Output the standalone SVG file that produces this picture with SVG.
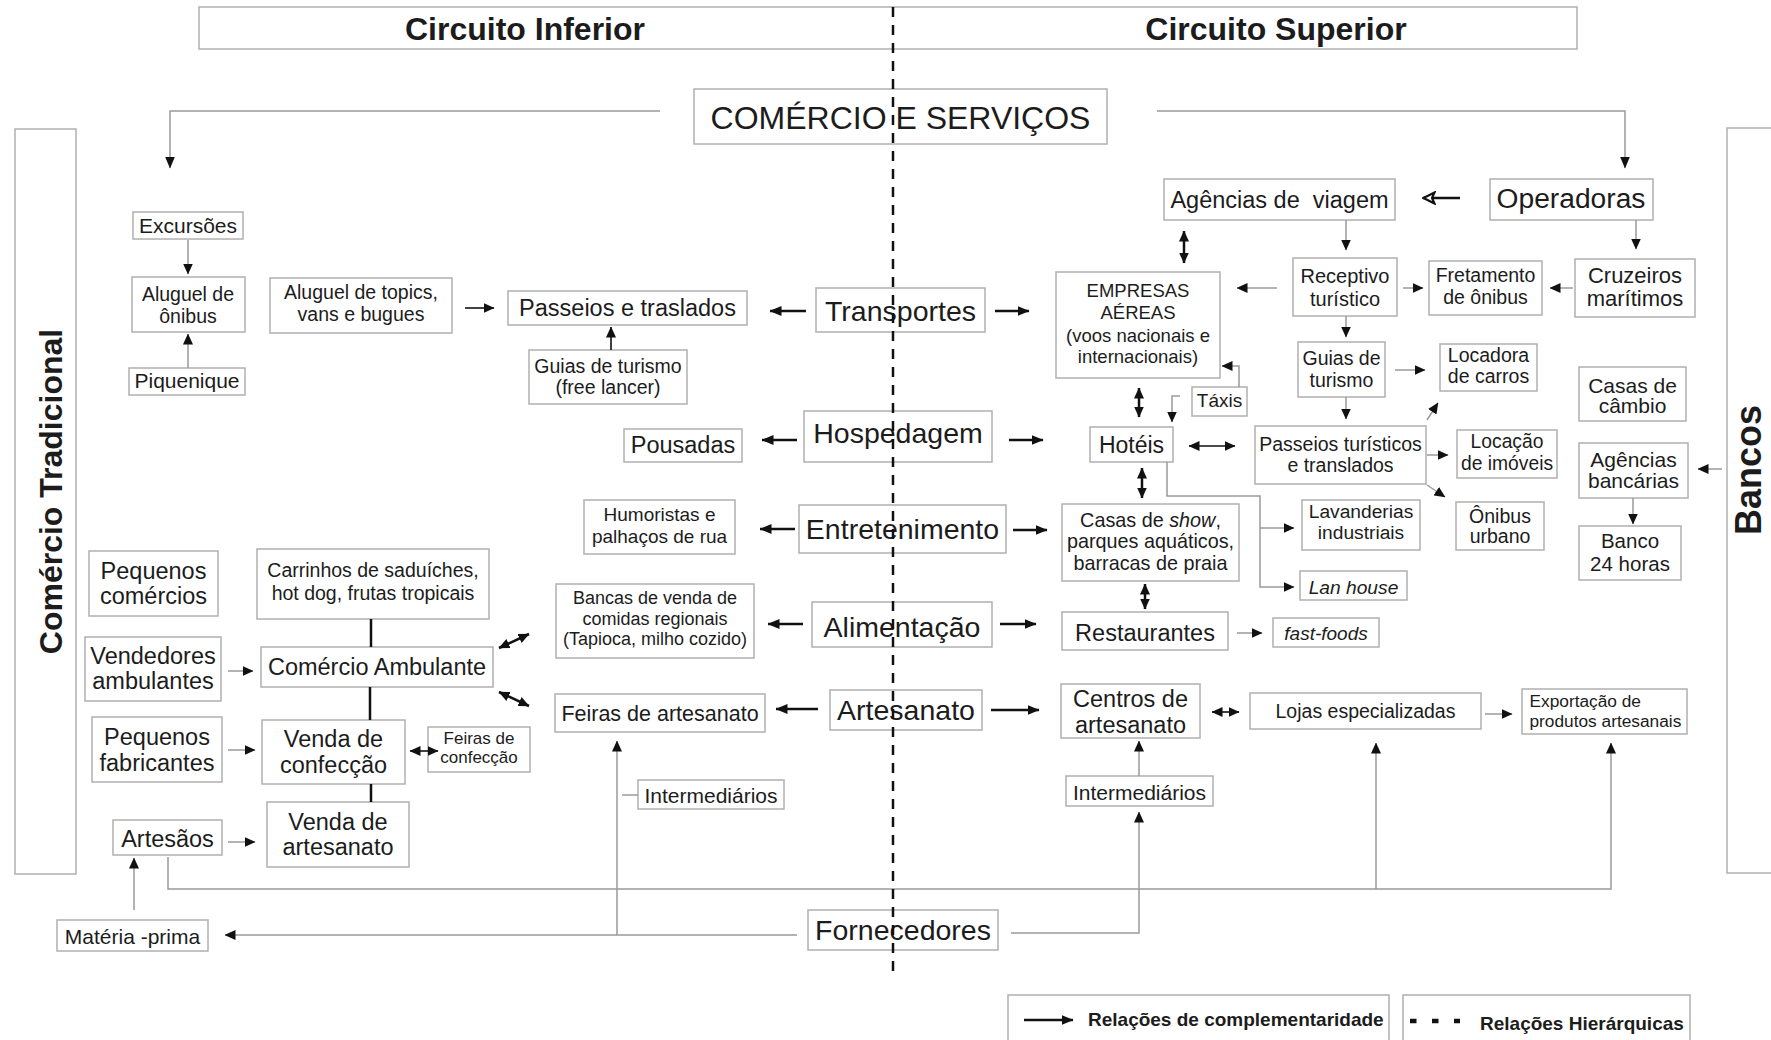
<svg xmlns="http://www.w3.org/2000/svg" width="1771" height="1040" viewBox="0 0 1771 1040">
<style>
.bx{fill:#fff;stroke:#b0b0b0;stroke-width:1.5}
text{font-family:"Liberation Sans",Arial,sans-serif;fill:#1c1c1c}
.m{text-anchor:middle}
.hb{font-weight:bold}
.f28{font-size:28.5px}.f23{font-size:23.5px}.f21{font-size:21px}.f19{font-size:19.5px}.f18{font-size:18.5px}.f17{font-size:17.3px}
.g{fill:none;stroke:#9a9a9a;stroke-width:1.5}
.k{fill:none;stroke:#111;stroke-width:2.5}
.kt{fill:none;stroke:#111;stroke-width:1.6}
.i{font-style:italic}
</style>
<defs>
<marker id="a" viewBox="0 0 12 10" refX="11.5" refY="5" markerWidth="12" markerHeight="10" orient="auto-start-reverse" markerUnits="userSpaceOnUse"><path d="M0,0 L12,5 L0,10 z" fill="#111"/></marker>
<marker id="s" viewBox="0 0 11 10" refX="10.5" refY="5" markerWidth="11" markerHeight="10" orient="auto-start-reverse" markerUnits="userSpaceOnUse"><path d="M0,0 L11,5 L0,10 z" fill="#111"/></marker>
<marker id="h" viewBox="0 0 14 14" refX="13" refY="7" markerWidth="14" markerHeight="14" orient="auto" markerUnits="userSpaceOnUse"><path d="M1.5,1.5 L12.5,7 L1.5,12.5 L4,7 z" fill="#fff" stroke="#111" stroke-width="2.2"/></marker>
</defs>
<rect width="1771" height="1040" fill="#fff"/>

<g id="header">
<rect class="bx" x="199" y="7" width="1378" height="42"/>
<text class="m hb" x="525" y="40" font-size="32">Circuito Inferior</text>
<text class="m hb" x="1276" y="40" font-size="32">Circuito Superior</text>
</g>

<g id="comercio-tradicional">
<rect class="bx" x="15" y="129" width="61" height="745"/>
<text class="m hb" font-size="32" transform="translate(62,491.5) rotate(-90)">Comércio Tradicional</text>
</g>
<g id="bancos">
<rect class="bx" x="1727" y="128" width="60" height="745"/>
<text class="m hb" font-size="36" transform="translate(1761,470) rotate(-90)">Bancos</text>
</g>

<g id="comercio-servicos"><rect class="bx" x="694" y="89" width="413" height="55"/><text class="m" x="900.5" y="129" font-size="32">COMÉRCIO E SERVIÇOS</text></g>

<g id="excursoes"><rect class="bx" x="133" y="212" width="110" height="27"/><text class="m f21" x="188" y="233">Excursões</text></g>
<g id="aluguel-onibus"><rect class="bx" x="132" y="277" width="113" height="55"/><text class="m f19" x="188"><tspan x="188" y="301">Aluguel de</tspan><tspan x="188" y="323">ônibus</tspan></text></g>
<g id="piquenique"><rect class="bx" x="129" y="368" width="116" height="27"/><text class="m f21" x="187" y="388">Piquenique</text></g>
<g id="aluguel-topics"><rect class="bx" x="270" y="278" width="182" height="55"/><text class="m f19"><tspan x="361" y="299">Aluguel de topics,</tspan><tspan x="361" y="321">vans e bugues</tspan></text></g>
<g id="passeios-traslados"><rect class="bx" x="508" y="291" width="239" height="34"/><text class="m f23" x="627.5" y="315.5">Passeios e traslados</text></g>
<g id="guias-free"><rect class="bx" x="529" y="350" width="158" height="54"/><text class="m f19"><tspan x="608" y="373">Guias de turismo</tspan><tspan x="608" y="394">(free lancer)</tspan></text></g>
<g id="transportes"><rect class="bx" x="816" y="288" width="169" height="44"/><text class="m f28" x="900.5" y="321">Transportes</text></g>
<g id="hospedagem"><rect class="bx" x="804" y="411" width="188" height="51"/><text class="m f28" x="898" y="443">Hospedagem</text></g>
<g id="pousadas"><rect class="bx" x="624" y="429" width="118" height="33"/><text class="m f23" x="683" y="453">Pousadas</text></g>
<g id="humoristas"><rect class="bx" x="584" y="500" width="151" height="54"/><text class="m" font-size="19"><tspan x="659.5" y="521">Humoristas e</tspan><tspan x="659.5" y="543">palhaços de rua</tspan></text></g>
<g id="entretenimento"><rect class="bx" x="799" y="505" width="207" height="48"/><text class="m f28" x="902.5" y="539">Entretenimento</text></g>
<g id="pequenos-comercios"><rect class="bx" x="89" y="551" width="129" height="65"/><text class="m f23"><tspan x="153.5" y="579">Pequenos</tspan><tspan x="153.5" y="604">comércios</tspan></text></g>
<g id="carrinhos"><rect class="bx" x="257" y="549" width="232" height="70"/><text class="m f19"><tspan x="373" y="577">Carrinhos de saduíches,</tspan><tspan x="373" y="600">hot dog, frutas tropicais</tspan></text></g>
<g id="bancas"><rect class="bx" x="556" y="584" width="198" height="74"/><text class="m" font-size="18"><tspan x="655" y="604">Bancas de venda de</tspan><tspan x="655" y="624.5">comidas regionais</tspan><tspan x="655" y="645">(Tapioca, milho cozido)</tspan></text></g>
<g id="alimentacao"><rect class="bx" x="812" y="602" width="180" height="45"/><text class="m f28" x="902" y="637">Alimentação</text></g>
<g id="vendedores"><rect class="bx" x="85" y="637" width="136" height="64"/><text class="m f23"><tspan x="153" y="664">Vendedores</tspan><tspan x="153" y="689">ambulantes</tspan></text></g>
<g id="comercio-ambulante"><rect class="bx" x="261" y="647" width="232" height="40"/><text class="m f23" x="377" y="675">Comércio Ambulante</text></g>
<g id="feiras-artesanato"><rect class="bx" x="555" y="694" width="210" height="38"/><text class="m" font-size="21.5" x="660" y="721">Feiras de artesanato</text></g>
<g id="artesanato"><rect class="bx" x="830" y="690" width="152" height="40"/><text class="m f28" x="906" y="720">Artesanato</text></g>
<g id="pequenos-fabricantes"><rect class="bx" x="92" y="717" width="130" height="65"/><text class="m f23"><tspan x="157" y="745">Pequenos</tspan><tspan x="157" y="771">fabricantes</tspan></text></g>
<g id="venda-confeccao"><rect class="bx" x="262" y="720" width="143" height="64"/><text class="m f23"><tspan x="333.5" y="747">Venda de</tspan><tspan x="333.5" y="773">confecção</tspan></text></g>
<g id="feiras-confeccao"><rect class="bx" x="428" y="727" width="102" height="45"/><text class="m" font-size="17"><tspan x="479" y="744">Feiras de</tspan><tspan x="479" y="763">confecção</tspan></text></g>
<g id="intermediarios-l"><rect class="bx" x="638" y="780" width="146" height="29"/><text class="m f21" x="711" y="803">Intermediários</text></g>
<g id="artesaos"><rect class="bx" x="113" y="820" width="109" height="35"/><text class="m f23" x="167.5" y="847">Artesãos</text></g>
<g id="venda-artesanato"><rect class="bx" x="267" y="802" width="142" height="65"/><text class="m f23"><tspan x="338" y="830">Venda de</tspan><tspan x="338" y="855">artesanato</tspan></text></g>
<g id="fornecedores"><rect class="bx" x="808" y="910" width="190" height="40"/><text class="m f28" x="903" y="940">Fornecedores</text></g>
<g id="materia-prima"><rect class="bx" x="57" y="920" width="151" height="31"/><text class="m f21" x="132.5" y="944">Matéria -prima</text></g>

<g id="agencias-viagem"><rect class="bx" x="1164" y="179" width="231" height="41"/><text class="m f23" x="1279.5" y="208" style="white-space:pre">Agências de  viagem</text></g>
<g id="operadoras"><rect class="bx" x="1490" y="179" width="163" height="41"/><text class="m" font-size="28.2" x="1571" y="208">Operadoras</text></g>
<g id="empresas-aereas"><rect class="bx" x="1056" y="272" width="164" height="106"/><text class="m f18"><tspan x="1138" y="297">EMPRESAS</tspan><tspan x="1138" y="319">AÉREAS</tspan><tspan x="1138" y="342">(voos nacionais e</tspan><tspan x="1138" y="363">internacionais)</tspan></text></g>
<g id="receptivo"><rect class="bx" x="1293" y="258" width="104" height="58"/><text class="m" font-size="20"><tspan x="1345" y="283">Receptivo</tspan><tspan x="1345" y="306">turístico</tspan></text></g>
<g id="fretamento"><rect class="bx" x="1429" y="261" width="113" height="54"/><text class="m f19"><tspan x="1485.5" y="282">Fretamento</tspan><tspan x="1485.5" y="304">de ônibus</tspan></text></g>
<g id="cruzeiros"><rect class="bx" x="1575" y="259" width="120" height="58"/><text class="m" font-size="22"><tspan x="1635" y="283">Cruzeiros</tspan><tspan x="1635" y="306">marítimos</tspan></text></g>
<g id="guias-turismo"><rect class="bx" x="1298" y="342" width="87" height="55"/><text class="m f19"><tspan x="1341.5" y="365">Guias de</tspan><tspan x="1341.5" y="387">turismo</tspan></text></g>
<g id="locadora"><rect class="bx" x="1440" y="344" width="97" height="47"/><text class="m f19"><tspan x="1488.5" y="362">Locadora</tspan><tspan x="1488.5" y="383">de carros</tspan></text></g>
<g id="taxis"><rect class="bx" x="1192" y="387" width="55" height="29"/><text class="m" font-size="19" x="1219.5" y="407">Táxis</text></g>
<g id="casas-cambio"><rect class="bx" x="1579" y="367" width="107" height="54"/><text class="m f21"><tspan x="1632.5" y="393">Casas de</tspan><tspan x="1632.5" y="413">câmbio</tspan></text></g>
<g id="hoteis"><rect class="bx" x="1090" y="427" width="83" height="35"/><text class="m" font-size="23" x="1131.5" y="453">Hotéis</text></g>
<g id="passeios-turisticos"><rect class="bx" x="1255" y="426" width="171" height="58"/><text class="m f19"><tspan x="1340.5" y="451">Passeios turísticos</tspan><tspan x="1340.5" y="472">e translados</tspan></text></g>
<g id="locacao-imoveis"><rect class="bx" x="1457" y="430" width="100" height="48"/><text class="m" font-size="19.3"><tspan x="1507" y="448">Locação</tspan><tspan x="1507" y="470">de imóveis</tspan></text></g>
<g id="agencias-bancarias"><rect class="bx" x="1579" y="443" width="109" height="55"/><text class="m f21"><tspan x="1633.5" y="467">Agências</tspan><tspan x="1633.5" y="488">bancárias</tspan></text></g>
<g id="casas-show"><rect class="bx" x="1062" y="504" width="177" height="77"/><text class="m" font-size="19.8"><tspan x="1150.5" y="526.5">Casas de <tspan class="i">show</tspan>,</tspan><tspan x="1150.5" y="548">parques aquáticos,</tspan><tspan x="1150.5" y="569.5">barracas de praia</tspan></text></g>
<g id="lavanderias"><rect class="bx" x="1302" y="500" width="118" height="50"/><text class="m" font-size="19.2"><tspan x="1361" y="518">Lavanderias</tspan><tspan x="1361" y="539">industriais</tspan></text></g>
<g id="onibus-urbano"><rect class="bx" x="1456" y="502" width="88" height="48"/><text class="m f19"><tspan x="1500" y="523">Ônibus</tspan><tspan x="1500" y="543">urbano</tspan></text></g>
<g id="banco-24"><rect class="bx" x="1579" y="526" width="102" height="54"/><text class="m" font-size="20.5"><tspan x="1630" y="548">Banco</tspan><tspan x="1630" y="571">24 horas</tspan></text></g>
<g id="lan-house"><rect class="bx" x="1300" y="571" width="107" height="29"/><text class="m i" font-size="19.2" x="1353.5" y="594">Lan house</text></g>
<g id="restaurantes"><rect class="bx" x="1062" y="612" width="166" height="38"/><text class="m f23" x="1145" y="641">Restaurantes</text></g>
<g id="fast-foods"><rect class="bx" x="1273" y="618" width="106" height="29"/><text class="m i" font-size="19" x="1326" y="640">fast-foods</text></g>
<g id="centros-artesanato"><rect class="bx" x="1061" y="684" width="139" height="54"/><text class="m f23"><tspan x="1130.5" y="707">Centros de</tspan><tspan x="1130.5" y="733">artesanato</tspan></text></g>
<g id="lojas"><rect class="bx" x="1250" y="693" width="231" height="36"/><text class="m f19" x="1365.5" y="718">Lojas especializadas</text></g>
<g id="exportacao"><rect class="bx" x="1522" y="689" width="165" height="45"/><text class="f17"><tspan x="1529.5" y="707">Exportação de</tspan><tspan x="1529.5" y="726.5">produtos artesanais</tspan></text></g>
<g id="intermediarios-r"><rect class="bx" x="1066" y="776" width="147" height="30"/><text class="m f21" x="1139.5" y="800">Intermediários</text></g>

<g id="connectors">
<path class="g" d="M660 111 H170 V168" marker-end="url(#a)"/>
<path class="g" d="M1157 111 H1625 V168" marker-end="url(#a)"/>
<path class="g" d="M188 240 V274" marker-end="url(#s)"/>
<path class="g" d="M188 368 V334" marker-end="url(#s)"/>
<path class="kt" d="M465 308 H494" marker-end="url(#s)"/>
<path class="kt" d="M611 350 V327" marker-end="url(#s)"/>
<path class="k" d="M806 311 H770" marker-end="url(#a)"/>
<path class="k" d="M995 311 H1029" marker-end="url(#a)"/>
<path class="k" d="M797 440 H762" marker-end="url(#a)"/>
<path class="k" d="M1009 440 H1043" marker-end="url(#a)"/>
<path class="k" d="M795 529 H760" marker-end="url(#a)"/>
<path class="k" d="M1013 530 H1047" marker-end="url(#a)"/>
<path class="k" d="M803 624 H768" marker-end="url(#a)"/>
<path class="k" d="M1000 624 H1036" marker-end="url(#a)"/>
<path class="k" d="M818 709 H776" marker-end="url(#a)"/>
<path class="k" d="M991 710 H1039" marker-end="url(#a)"/>
<path class="k" d="M371 619 V647 M370 687 V720 M371 784 V802"/>
<path class="g" d="M228 671 H253" marker-end="url(#s)"/>
<path class="g" d="M228 750 H255" marker-end="url(#s)"/>
<path class="g" d="M228 842 H255" marker-end="url(#s)"/>
<path class="kt" d="M410 751 H438" marker-start="url(#s)" marker-end="url(#s)"/>
<path class="k" d="M499 648 L529 634" marker-start="url(#s)" marker-end="url(#s)"/>
<path class="k" d="M499 692 L529 706" marker-start="url(#s)" marker-end="url(#s)"/>
<path class="g" d="M797 935 H225" marker-end="url(#s)"/>
<path class="g" d="M617 935 V741" marker-end="url(#s)"/>
<path class="g" d="M622 795 H638"/>
<path class="g" d="M134 910 V858" marker-end="url(#s)"/>
<path class="g" d="M168 857 V889 H1611 V743" marker-end="url(#s)"/>
<path class="g" d="M1376 889 V743" marker-end="url(#s)"/>
<path class="g" d="M1011 933 H1139 V812" marker-end="url(#s)"/>
<path class="g" d="M1139 776 V741" marker-end="url(#s)"/>
<path class="k" d="M1460 198 H1423" marker-end="url(#h)"/>
<path class="g" d="M1636 220 V249" marker-end="url(#s)"/>
<path class="g" d="M1346 220 V250" marker-end="url(#s)"/>
<path class="k" d="M1184 231 V263" marker-start="url(#s)" marker-end="url(#s)"/>
<path class="g" d="M1277 288 H1237" marker-end="url(#s)"/>
<path class="g" d="M1403 288 H1423" marker-end="url(#s)"/>
<path class="g" d="M1573 288 H1550" marker-end="url(#s)"/>
<path class="g" d="M1346 316 V337" marker-end="url(#s)"/>
<path class="g" d="M1395 370 H1425" marker-end="url(#s)"/>
<path class="g" d="M1346 397 V419" marker-end="url(#s)"/>
<path class="g" d="M1239 387 V366 H1222" marker-end="url(#s)"/>
<path class="g" d="M1180 396 H1172 V422" marker-end="url(#s)"/>
<path class="k" d="M1139 388 V417" marker-start="url(#s)" marker-end="url(#s)"/>
<path class="kt" d="M1189 446 H1235" marker-start="url(#s)" marker-end="url(#s)"/>
<path class="k" d="M1142 468 V498" marker-start="url(#s)" marker-end="url(#s)"/>
<path class="g" d="M1427 420 L1438 403" marker-end="url(#s)"/>
<path class="g" d="M1427 455 H1448" marker-end="url(#s)"/>
<path class="g" d="M1427 485 L1445 497" marker-end="url(#s)"/>
<path class="g" d="M1167 462 V496 H1260 V587 H1294" marker-end="url(#s)"/>
<path class="g" d="M1260 528 H1294" marker-end="url(#s)"/>
<path class="k" d="M1145 584 V609" marker-start="url(#s)" marker-end="url(#s)"/>
<path class="g" d="M1237 633 H1262" marker-end="url(#s)"/>
<path class="kt" d="M1212 712 H1239" marker-start="url(#s)" marker-end="url(#s)"/>
<path class="g" d="M1485 714 H1512" marker-end="url(#s)"/>
<path class="g" d="M1722 469 H1698" marker-end="url(#s)"/>
<path class="g" d="M1633 498 V524" marker-end="url(#s)"/>
</g>

<g id="legend">
<rect class="bx" x="1008" y="995" width="381" height="60"/>
<rect class="bx" x="1403" y="995" width="287" height="60"/>
<path class="k" d="M1024 1020 H1073" marker-end="url(#a)"/>
<text class="hb" font-size="19" x="1088" y="1026">Relações de complementaridade</text>
<path d="M1410 1021 H1460" stroke="#111" stroke-width="4.5" stroke-dasharray="6.5 15.5"/>
<text class="hb" font-size="19" x="1480" y="1030">Relações Hierárquicas</text>
</g>

<path id="divisor" d="M893 7 V974" stroke="#111" stroke-width="2.5" stroke-dasharray="10 8" fill="none"/>
</svg>
